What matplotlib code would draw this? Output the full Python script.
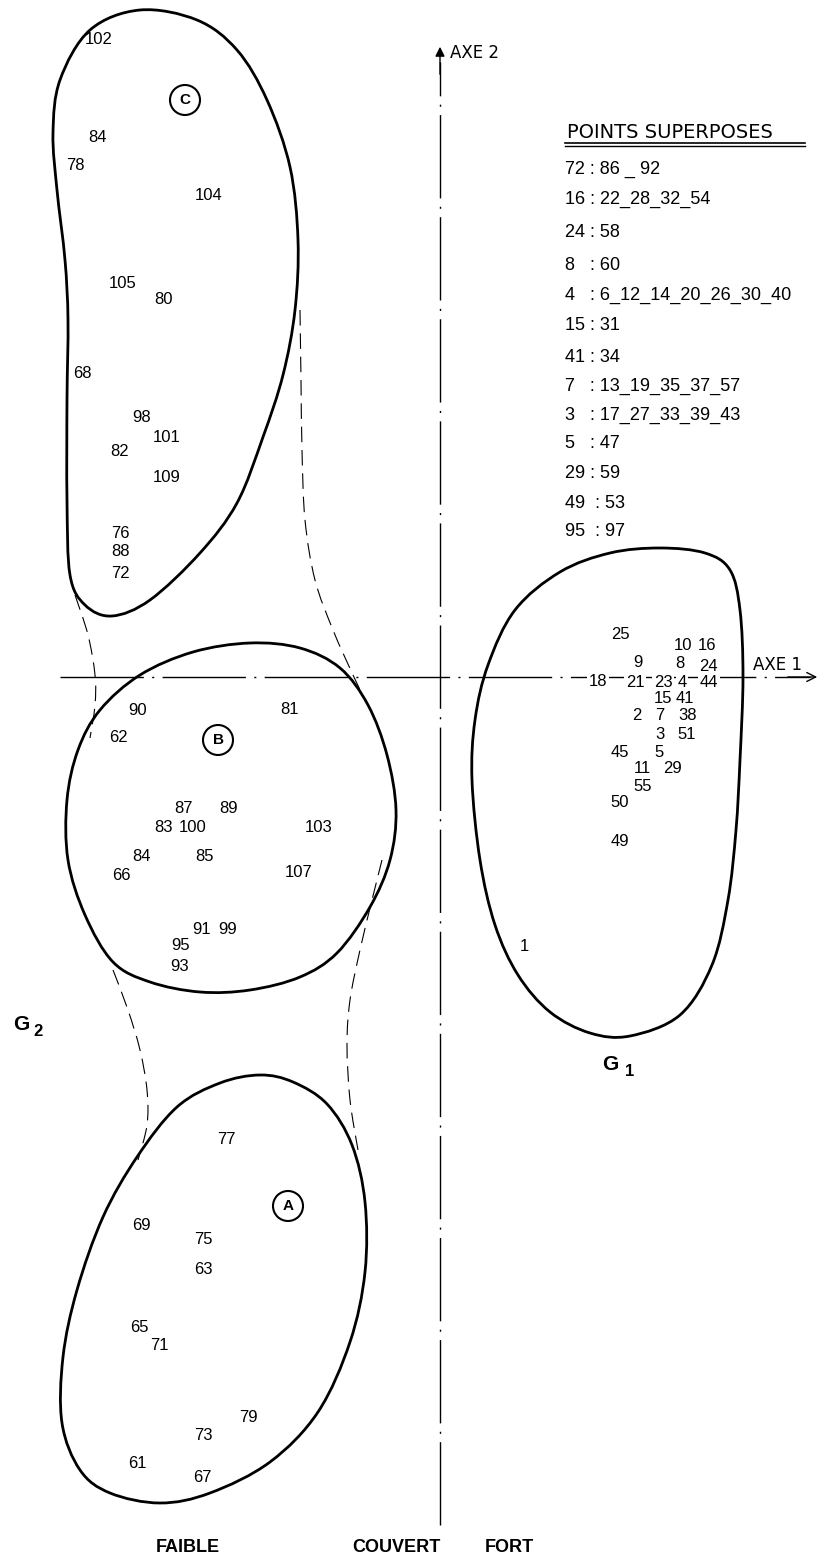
import numpy as np
import matplotlib
matplotlib.use("Agg")
import matplotlib.pyplot as plt
from matplotlib.path import Path
from matplotlib.patches import PathPatch, Circle

plt.rcParams['font.family'] = ['Liberation Sans', 'DejaVu Sans']

# ---------------- data (factor-plane coordinates: axe 1, axe 2) ----------------
c_labels = ['102', '84', '78', '104', '105', '80', '68', '98', '101', '82', '109', '76', '88', '72']
c_x = [-3.41, -3.43, -3.65, -2.31, -3.17, -2.77, -3.58, -2.98, -2.73, -3.20, -2.73, -3.20, -3.20, -3.20]
c_y = [6.37, 5.40, 5.11, 4.82, 3.93, 3.78, 3.03, 2.59, 2.40, 2.25, 2.00, 1.44, 1.25, 1.03]

b_labels = ['90', '62', '81', '87', '89', '83', '100', '103', '84', '85', '66', '107', '91', '99', '95', '93']
b_x = [-3.02, -3.22, -1.51, -2.57, -2.11, -2.77, -2.47, -1.21, -2.99, -2.36, -3.19, -1.41, -2.38, -2.12, -2.59, -2.60]
b_y = [-0.34, -0.61, -0.33, -1.32, -1.32, -1.51, -1.51, -1.51, -1.80, -1.80, -1.99, -1.96, -2.53, -2.53, -2.69, -2.90]

a_labels = ['77', '69', '75', '63', '65', '71', '79', '73', '61', '67']
a_x = [-2.14, -2.99, -2.37, -2.37, -3.01, -2.81, -1.92, -2.37, -3.03, -2.38]
a_y = [-4.63, -5.49, -5.62, -5.92, -6.50, -6.69, -7.40, -7.59, -7.86, -8.01]

g1_labels = ['25', '10', '16', '9', '8', '24', '18', '21', '23', '4', '44', '15', '41',
             '2', '7', '38', '3', '51', '45', '5', '11', '29', '55', '50', '49', '1']
g1_x = [1.80, 2.43, 2.67, 1.98, 2.40, 2.68, 1.58, 1.95, 2.23, 2.42, 2.69, 2.23, 2.45,
        1.97, 2.20, 2.48, 2.20, 2.47, 1.80, 2.19, 2.02, 2.33, 2.03, 1.80, 1.80, 0.84]
g1_y = [0.42, 0.31, 0.31, 0.14, 0.13, 0.10, -0.05, -0.06, -0.06, -0.06, -0.06, -0.22, -0.22,
        -0.39, -0.39, -0.39, -0.58, -0.58, -0.76, -0.76, -0.92, -0.92, -1.10, -1.26, -1.65, -2.70]

# group centres (circled letters)
groups = ['C', 'B', 'A']
group_x = [-2.55, -2.22, -1.52]
group_y = [5.77, -0.63, -5.29]

# superposed points legend
legend_title = 'POINTS SUPERPOSES'
legend_lines = ['72 : 86 _ 92', '16 : 22_28_32_54', '24 : 58', '8   : 60',
                '4   : 6_12_14_20_26_30_40', '15 : 31', '41 : 34', '7   : 13_19_35_37_57',
                '3   : 17_27_33_39_43', '5   : 47', '29 : 59', '49  : 53', '95  : 97']

# contours
cont_c_x = [-3.00, -2.43, -2.03, -1.73, -1.50, -1.42, -1.45, -1.57, -1.77, -2.03, -2.40, -2.90,
            -3.28, -3.55, -3.70, -3.73, -3.73, -3.72, -3.75, -3.83, -3.87, -3.80, -3.50]
cont_c_y = [6.67, 6.57, 6.27, 5.77, 5.10, 4.37, 3.67, 3.02, 2.40, 1.74, 1.24, 0.77,
            0.61, 0.72, 1.02, 1.77, 2.77, 3.57, 4.17, 4.87, 5.44, 5.97, 6.47]
cont_b_x = [-1.90, -1.40, -1.00, -0.72, -0.53, -0.44, -0.50, -0.70, -1.03, -1.40, -1.90, -2.40,
            -2.90, -3.27, -3.55, -3.72, -3.73, -3.62, -3.40, -3.00, -2.47]
cont_b_y = [0.34, 0.29, 0.09, -0.28, -0.78, -1.33, -1.83, -2.30, -2.76, -3.00, -3.13, -3.15,
            -3.05, -2.85, -2.38, -1.83, -1.23, -0.73, -0.33, 0.02, 0.25]
cont_a_x = [-1.80, -1.47, -1.13, -0.88, -0.75, -0.75, -0.90, -1.22, -1.70, -2.30, -2.80, -3.30,
            -3.60, -3.78, -3.77, -3.63, -3.37, -3.03, -2.63, -2.20]
cont_a_y = [-3.98, -4.05, -4.27, -4.68, -5.25, -5.95, -6.65, -7.35, -7.85, -8.16, -8.26, -8.16,
            -7.93, -7.46, -6.80, -6.13, -5.40, -4.80, -4.30, -4.06]
cont_g1_x = [2.20, 2.65, 2.90, 3.00, 3.03, 3.00, 2.96, 2.88, 2.72, 2.40, 1.90, 1.50, 1.10, 0.78,
             0.55, 0.40, 0.32, 0.35, 0.48, 0.75, 1.20, 1.70]
cont_g1_y = [1.29, 1.24, 1.07, 0.67, 0.00, -0.83, -1.53, -2.23, -2.88, -3.38, -3.59, -3.56, -3.35,
             -2.98, -2.48, -1.83, -1.03, -0.43, 0.12, 0.67, 1.05, 1.24]

# dashed G2 envelope pieces
g2_pieces = [
    ([-3.65, -3.52, -3.45, -3.45, -3.50], [0.82, 0.42, 0.02, -0.28, -0.61]),
    ([-3.27, -3.12, -3.00, -2.93, -2.93, -3.02], [-2.93, -3.33, -3.73, -4.13, -4.48, -4.83]),
    ([-1.40, -1.39, -1.38, -1.35, -1.25, -1.07, -0.87, -0.75], [3.67, 2.97, 2.27, 1.57, 0.97, 0.47, 0.02, -0.23]),
    ([-0.58, -0.68, -0.80, -0.90, -0.93, -0.90, -0.82], [-1.83, -2.23, -2.73, -3.23, -3.68, -4.23, -4.73]),
]

bottom_labels = ['FAIBLE', 'COUVERT', 'FORT']
bottom_x = [-2.52, -0.44, 0.69]


def smooth_path(xs, ys, closed=True):
    pts = np.column_stack([xs, ys]).astype(float)
    n = len(pts)
    verts = [pts[0]]
    codes = [Path.MOVETO]
    segs = n if closed else n - 1
    for i in range(segs):
        if closed:
            p0, p1, p2, p3 = pts[(i - 1) % n], pts[i % n], pts[(i + 1) % n], pts[(i + 2) % n]
        else:
            p0, p1 = pts[max(i - 1, 0)], pts[i]
            p2, p3 = pts[i + 1], pts[min(i + 2, n - 1)]
        c1 = p1 + (p2 - p0) / 6.0
        c2 = p2 - (p3 - p1) / 6.0
        verts += [c1, c2, p2]
        codes += [Path.CURVE4] * 3
    return Path(verts, codes)


fig = plt.figure(figsize=(8.21, 15.63), dpi=100)
ax = fig.add_axes([0, 0, 1, 1])
ax.set_xlim(-4.40, 3.81)
ax.set_ylim(-8.86, 6.77)
ax.set_aspect('equal')
ax.axis('off')

axis_ls = (0, (60, 6, 1.5, 6))
# axes
ax.plot([-3.80, 3.70], [0, 0], color='black', lw=1.0, ls=axis_ls, zorder=1)
ax.plot([0, 0], [-8.48, 6.15], color='black', lw=1.0, ls=axis_ls, zorder=1)
ax.annotate('', xy=(3.80, 0), xytext=(3.45, 0),
            arrowprops=dict(arrowstyle='->', color='black', lw=1.0, mutation_scale=16))
ax.annotate('', xy=(0, 6.33), xytext=(0, 6.0),
            arrowprops=dict(arrowstyle='-|>', color='black', lw=1.0, mutation_scale=14))
ax.text(0.10, 6.24, 'AXE 2', fontsize=12, family=['DejaVu Sans'], ha='left', va='center')
ax.text(3.13, 0.12, 'AXE 1', fontsize=12, family=['DejaVu Sans'], ha='left', va='center')

# contours
for xs, ys in [(cont_c_x, cont_c_y), (cont_b_x, cont_b_y), (cont_a_x, cont_a_y), (cont_g1_x, cont_g1_y)]:
    ax.add_patch(PathPatch(smooth_path(xs, ys), fc='none', ec='black', lw=2.0, zorder=2))
for xs, ys in g2_pieces:
    ax.add_patch(PathPatch(smooth_path(xs, ys, closed=False), fc='none', ec='black',
                           lw=0.8, ls=(0, (14, 7)), zorder=2))

# labels
lab_fs = 12
for labels, xs, ys in [(c_labels, c_x, c_y), (b_labels, b_x, b_y), (a_labels, a_x, a_y)]:
    for t, x, y in zip(labels, xs, ys):
        ax.text(x, y, t, fontsize=lab_fs, ha='center', va='center', zorder=4)
for t, x, y in zip(g1_labels, g1_x, g1_y):
    kw = {}
    if abs(y) < 0.1:
        kw['bbox'] = dict(fc='white', ec='none', pad=1.0)
    ax.text(x, y, t, fontsize=lab_fs, ha='center', va='center', zorder=4, **kw)

for g, x, y in zip(groups, group_x, group_y):
    ax.add_patch(Circle((x, y), 0.15, fc='white', ec='black', lw=1.5, zorder=3))
    ax.text(x, y - 0.005, g, fontsize=11, fontweight='bold', ha='center', va='center', zorder=4)

# legend of superposed points
ax.text(1.27, 5.44, legend_title, fontsize=14, family=['DejaVu Sans'], ha='left', va='center')
ax.plot([1.25, 3.65], [5.335, 5.335], color='black', lw=1.2)
ax.plot([1.25, 3.65], [5.31, 5.31], color='black', lw=1.0)
leg_y = [5.08, 4.78, 4.44, 4.11, 3.82, 3.52, 3.20, 2.91, 2.62, 2.33, 2.04, 1.74, 1.45]
for t, y in zip(legend_lines, leg_y):
    ax.text(1.25, y, t, fontsize=13, ha='left', va='center', clip_on=True)

# group names
ax.text(-4.27, -3.47, 'G', fontsize=15, fontweight='bold', ha='left', va='center')
ax.text(-4.07, -3.54, '2', fontsize=12, fontweight='bold', ha='left', va='center')
ax.text(1.62, -3.88, 'G', fontsize=15, fontweight='bold', ha='left', va='center')
ax.text(1.845, -3.95, '1', fontsize=12, fontweight='bold', ha='left', va='center')

for t, x in zip(bottom_labels, bottom_x):
    ax.text(x, -8.71, t, fontsize=13, fontweight='bold', ha='center', va='center')

fig.savefig('out.png', dpi=100)
